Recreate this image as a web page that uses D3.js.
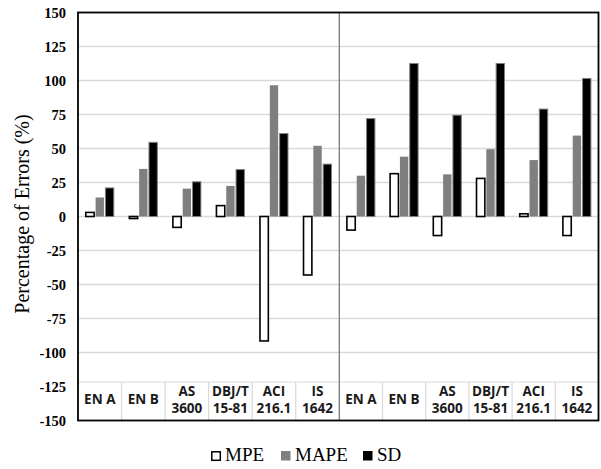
<!DOCTYPE html>
<html>
<head>
<meta charset="utf-8">
<script src="https://cdn.jsdelivr.net/npm/d3@7"></script>
<style>
  html, body { margin: 0; padding: 0; background: #fff; }
  svg { display: block; }
</style>
</head>
<body>
<svg id="chart" width="601" height="469"></svg>
<script>
// ---- data ----
const categories = ["EN A", "EN B", "AS 3600", "DBJ/T 15-81", "ACI 216.1", "IS 1642"];
const categoryLines = [["EN A"], ["EN B"], ["AS", "3600"], ["DBJ/T", "15-81"], ["ACI", "216.1"], ["IS", "1642"]];
const seriesNames = ["MPE", "MAPE", "SD"];
const panels = ["left", "right"];
const leftMPE  = [3, -1.5, -8, 8, -91.5, -43];
const leftMAPE = [14, 35, 20.5, 22.5, 96.5, 52];
const leftSD   = [21, 54.5, 25.5, 34.5, 61, 38.5];
const rightMPE  = [-10, 31.5, -14, 28, 2, -14];
const rightMAPE = [30, 44, 31, 49.5, 41.5, 59.5];
const rightSD   = [72, 112.5, 74.5, 112.5, 79, 101.5];
const yTicks = [-150, -125, -100, -75, -50, -25, 0, 25, 50, 75, 100, 125, 150];
const yTitle = "Percentage of Errors (%)";

const panelData = {
  left:  { MPE: leftMPE,  MAPE: leftMAPE,  SD: leftSD },
  right: { MPE: rightMPE, MAPE: rightMAPE, SD: rightSD }
};

// ---- layout ----
const svg = d3.select("#chart");
const plotL = 78, plotR = 598.5, plotT = 12.5, plotB = 420.5, midX = 339.3;
const tableTop = 382;
const serif = "'Liberation Serif', 'Times New Roman', serif";

const y = d3.scaleLinear().domain([-150, 150]).range([plotB, plotT]);
const xPanel = {
  left:  d3.scaleBand().domain(categories).range([plotL, midX]).padding(0),
  right: d3.scaleBand().domain(categories).range([midX, plotR]).padding(0)
};

const fill = { MPE: "#ffffff", MAPE: "#7f7f7f", SD: "#000000" };
const stroke = { MPE: "#000000", MAPE: "none", SD: "#7f7f7f" };
const strokeW = { MPE: 1.6, MAPE: 0, SD: 1 };

// gridlines
svg.append("g").selectAll("line")
  .data(yTicks.filter(t => t > -150 && t < 150))
  .join("line")
  .attr("x1", plotL).attr("x2", plotR)
  .attr("y1", d => y(d)).attr("y2", d => y(d))
  .attr("stroke", "#d9d9d9").attr("stroke-width", 1.5);

// bars
panels.forEach(p => {
  const xs = xPanel[p];
  const groupW = 28;
  const x1 = d3.scaleBand().domain(seriesNames)
    .range([(xs.bandwidth() - groupW) / 2, (xs.bandwidth() + groupW) / 2])
    .paddingInner(0.15);
  const g = svg.append("g");
  categories.forEach((c, i) => {
    seriesNames.forEach(s => {
      const v = panelData[p][s][i];
      g.append("rect")
        .attr("x", xs(c) + x1(s))
        .attr("width", x1.bandwidth())
        .attr("y", y(Math.max(0, v)))
        .attr("height", Math.abs(y(v) - y(0)))
        .attr("fill", fill[s])
        .attr("stroke", stroke[s])
        .attr("stroke-width", strokeW[s]);
    });
  });
});

// table at bottom
svg.append("rect")
  .attr("x", plotL).attr("y", tableTop)
  .attr("width", plotR - plotL).attr("height", plotB - tableTop)
  .attr("fill", "#fff");
svg.append("line")
  .attr("x1", plotL).attr("x2", plotR)
  .attr("y1", tableTop).attr("y2", tableTop)
  .attr("stroke", "#d9d9d9").attr("stroke-width", 1.2);

panels.forEach(p => {
  const xs = xPanel[p];
  const g = svg.append("g");
  categories.forEach((c, i) => {
    if (i > 0) {
      g.append("line")
        .attr("x1", xs(c)).attr("x2", xs(c))
        .attr("y1", tableTop).attr("y2", plotB)
        .attr("stroke", "#d9d9d9").attr("stroke-width", 1.2);
    }
    const lines = categoryLines[i];
    const cx = xs(c) + xs.bandwidth() / 2;
    const lh = 17;
    const cy = 399.5;
    const t = g.append("text")
      .attr("text-anchor", "middle")
      .style("font-family", "'Open Sans', sans-serif")
      .style("font-weight", 700)
      .style("font-size", "13.5px")
      .attr("fill", "#1a1a1a");
    lines.forEach((ln, k) => {
      t.append("tspan")
        .attr("x", cx)
        .attr("y", cy + (k - (lines.length - 1) / 2) * lh)
        .attr("dy", "0.36em")
        .text(ln);
    });
  });
});

// middle separator
svg.append("line")
  .attr("x1", midX).attr("x2", midX)
  .attr("y1", plotT).attr("y2", plotB)
  .attr("stroke", "#6f6f6f").attr("stroke-width", 1.2);

// frame
svg.append("rect")
  .attr("x", plotL).attr("y", plotT)
  .attr("width", plotR - plotL).attr("height", plotB - plotT)
  .attr("fill", "none").attr("stroke", "#000").attr("stroke-width", 1.8);

// y axis labels
const yAxis = d3.axisLeft(y).tickValues(yTicks).tickSize(0).tickPadding(0)
  .tickFormat(d => String(d));
const ya = svg.append("g").attr("transform", `translate(66,0)`).call(yAxis);
ya.select(".domain").remove();
ya.attr("font-family", null).attr("font-size", null);
ya.selectAll("text")
  .style("font-family", serif)
  .style("font-weight", "bold")
  .style("font-size", "14.5px")
  .attr("fill", "#000");

// y title
svg.append("text")
  .attr("transform", "translate(29,214) rotate(-90)")
  .attr("text-anchor", "middle")
  .style("font-family", serif)
  .style("font-size", "20px")
  .attr("fill", "#000")
  .text(yTitle);

// legend
const legendX = { MPE: 211, MAPE: 281, SD: 363 };
const lg = svg.append("g");
seriesNames.forEach(s => {
  lg.append("rect")
    .attr("x", legendX[s] + (s === "MPE" ? 0.8 : 0))
    .attr("y", 451 + (s === "MPE" ? 0.8 : 0))
    .attr("width", s === "MPE" ? 8.5 : 9.5)
    .attr("height", s === "MPE" ? 8.5 : 9.5)
    .attr("fill", fill[s])
    .attr("stroke", s === "MPE" ? "#000" : "none")
    .attr("stroke-width", 1.5);
  lg.append("text")
    .attr("x", legendX[s] + 14)
    .attr("y", 461)
    .style("font-family", serif)
    .style("font-size", "19px")
    .attr("fill", "#000")
    .text(s);
});
</script>
</body>
</html>
